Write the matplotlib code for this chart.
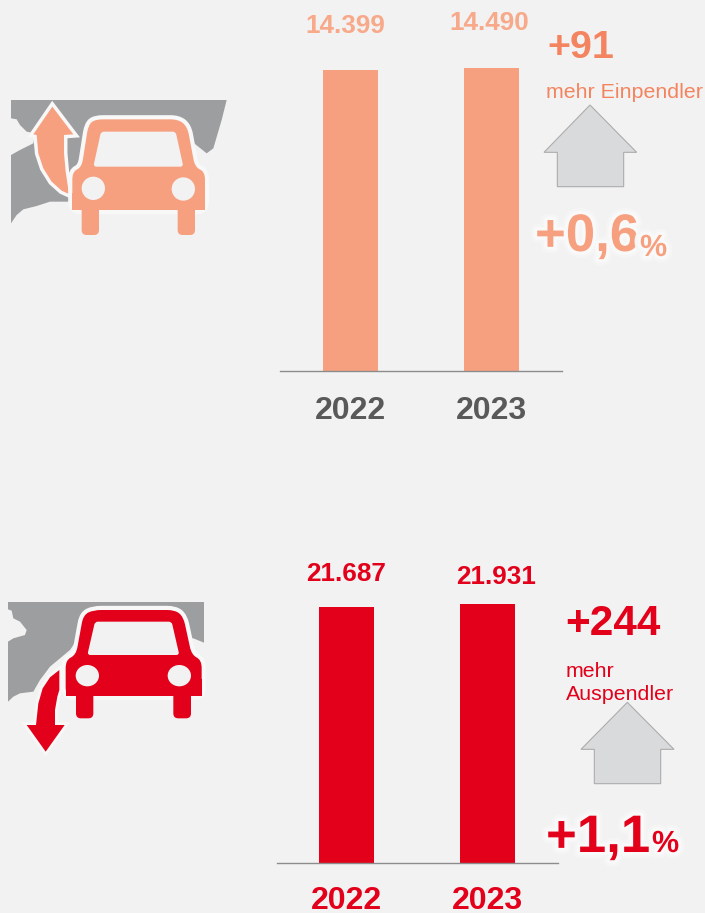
import matplotlib
matplotlib.use('Agg')
import matplotlib.pyplot as plt
import matplotlib.patheffects as pe
from matplotlib.patches import Polygon, Ellipse, FancyBboxPatch, PathPatch
from matplotlib.path import Path

plt.rcParams['font.family'] = ['Liberation Sans', 'DejaVu Sans']

W, H = 705, 913
BG = '#f2f2f2'
ORANGE = '#f6a080'
ORANGE_DARK = '#f4845f'
RED = '#e2001a'
GREY_TXT = '#595959'
GREY_MAP = '#9d9ea0'

years = ['2022', '2023']
einpendler = [14399, 14490]
auspendler = [21687, 21931]
einpendler_labels = ['14.399', '14.490']
auspendler_labels = ['21.687', '21.931']

fig = plt.figure(figsize=(W / 100, H / 100), dpi=100, facecolor=BG)


def bar_panel(x0, x1, y_base, px_top, values, color, txt_color, pad):
    # axes in pixel position, values through normal scale
    ax = fig.add_axes([x0 / W, 1 - y_base / H, (x1 - x0) / W, (y_base - 40) / H])
    ax.patch.set_alpha(0)
    ax.bar(range(2), values, width=0.39, color=color)
    ax.set_xlim(-0.5, 1.5)
    ax.set_ylim(0, max(values) * (y_base - 40) / (y_base - px_top))
    ax.set_yticks([])
    ax.set_xticks(range(2))
    ax.set_xticklabels(years, fontsize=23, fontweight='bold', color=txt_color)
    ax.tick_params(axis='x', length=0, pad=pad)
    for s in ['top', 'left', 'right']:
        ax.spines[s].set_visible(False)
    ax.spines['bottom'].set_color('#8c8c8c')
    ax.spines['bottom'].set_linewidth(1)
    return ax


bar_panel(280, 562, 371, 68, einpendler, ORANGE, GREY_TXT, 18)
bar_panel(276.5, 557.5, 863, 604, auspendler, RED, RED, 16.5)

# overlay in pixels for icons and free text
ov = fig.add_axes([0, 0, 1, 1], zorder=5)
ov.set_xlim(0, W)
ov.set_ylim(H, 0)
ov.axis('off')


def pts(p, dx, dy):
    return [(x / 3 + dx, y / 3 + dy) for x, y in p]


def rounded(p, r):
    # closed path, corners cut with a quadratic curve
    verts, codes = [], []
    n = len(p)
    for i in range(n):
        px, py = p[i - 1]
        x, y = p[i]
        nx, ny = p[(i + 1) % n]
        d1 = max(((x - px) ** 2 + (y - py) ** 2) ** 0.5, 1e-6)
        d2 = max(((x - nx) ** 2 + (y - ny) ** 2) ** 0.5, 1e-6)
        a = min(r, d1 / 2)
        b = min(r, d2 / 2)
        start = (x + (px - x) * a / d1, y + (py - y) * a / d1)
        end = (x + (nx - x) * b / d2, y + (ny - y) * b / d2)
        verts.append(start)
        codes.append(Path.MOVETO if i == 0 else Path.LINETO)
        verts += [(x, y), end]
        codes += [Path.CURVE3, Path.CURVE3]
    verts.append(verts[0])
    codes.append(Path.CLOSEPOLY)
    return Path(verts, codes)


def car(dx, dy, c, outline, win, holes, legs):
    halo = [pe.withStroke(linewidth=6, foreground='#f8f8f8')]
    ov.add_patch(PathPatch(rounded(pts(outline, dx, dy), 8), fc=c, ec='none', zorder=3, path_effects=halo))
    # square lower corners of the body
    xl, xr, yb = outline[0][0], outline[-1][0], outline[0][1]
    ov.add_patch(Polygon(pts([(xl, yb - 50), (xr, yb - 50), (xr, yb), (xl, yb)], dx, dy), fc=c, ec='none', zorder=3))
    for a, b, yt, ye in legs:
        ov.add_patch(FancyBboxPatch((a / 3 + dx + 5, yt / 3 + dy), (b - a) / 3 - 10, (ye - yt) / 3 - 5,
                                    boxstyle='round,pad=5', fc=c, ec='none', zorder=3))
    ov.add_patch(PathPatch(rounded(pts(win, dx, dy), 3), fc=BG, ec='none', zorder=4))
    for hx, hy, rx, ry in holes:
        ov.add_patch(Ellipse((hx / 3 + dx, hy / 3 + dy), 2 * rx / 3, 2 * ry / 3, fc=BG, ec='none', zorder=4))


# top icon, coordinates from 3x crop
d1 = (0, 90)
ov.add_patch(Polygon(pts([(33, 30), (680, 30), (665, 90), (640, 175), (620, 190), (595, 170), (570, 150),
                          (400, 150), (240, 230), (210, 335), (190, 335), (150, 335), (110, 348), (70, 358),
                          (50, 375), (33, 400), (33, 195), (60, 180), (100, 160), (105, 130), (80, 125),
                          (60, 105), (50, 88), (33, 85)], *d1), fc=GREY_MAP, ec='none', zorder=1))
ov.add_patch(Polygon(pts([(157, 50), (220, 133), (192, 135), (192, 190), (197, 245), (207, 312), (185, 302),
                          (155, 275), (130, 235), (115, 190), (110, 135), (100, 133)], *d1), fc=ORANGE,
                     ec='none', zorder=2, path_effects=[pe.withStroke(linewidth=5, foreground='#f8f8f8')]))
car(*d1, ORANGE,
    [(217, 360), (217, 245), (245, 232), (265, 105), (285, 88), (535, 88), (562, 110), (585, 232), (615, 245),
     (615, 360)],
    [(280, 230), (303, 125), (527, 125), (550, 230)],
    [(280, 295, 35, 35), (550, 297, 35, 35)],
    [(245, 297, 350, 435), (533, 585, 350, 435)])

# bottom icon
d2 = (0, 590)
ov.add_patch(Polygon(pts([(24, 36), (612, 36), (612, 158), (580, 145), (230, 150), (210, 180), (150, 230),
                          (120, 270), (100, 305), (60, 310), (40, 320), (24, 335), (24, 155), (40, 145),
                          (75, 135), (80, 120), (60, 95), (40, 85), (35, 62), (24, 58)], *d2),
                     fc=GREY_MAP, ec='none', zorder=1))
ov.add_patch(Polygon(pts([(178, 240), (150, 262), (128, 295), (115, 340), (108, 405), (80, 405), (137, 485),
                          (194, 405), (165, 405), (165, 360), (172, 320), (178, 300)], *d2), fc=RED,
                     ec='none', zorder=2, path_effects=[pe.withStroke(linewidth=4, foreground='#f8f8f8')]))
car(*d2, RED,
    [(197, 318), (197, 210), (228, 195), (250, 75), (280, 60), (525, 60), (550, 80), (575, 195), (605, 210),
     (605, 318)],
    [(262, 195), (285, 95), (515, 95), (538, 195)],
    [(262, 257, 35, 32), (538, 257, 35, 32)],
    [(228, 280, 310, 385), (520, 573, 310, 385)])

# arrows (houses)
for p, d in [([(210, 285), (350, 427), (311, 427), (311, 530), (112, 530), (112, 427), (72, 427)], (520, 10)),
             ([(292, 337), (432, 478), (392, 478), (392, 581), (193, 581), (193, 478), (153, 478)], (530, 590))]:
    ov.add_patch(Polygon(pts(p, *d), fc='#d9dadb', ec='#adadad', lw=0.8, zorder=2))

glow = [pe.withStroke(linewidth=9, foreground='#f5f5f5'), pe.withStroke(linewidth=5, foreground='#f9f9f9')]


def txt(x, y, s, size, c, weight='bold', ha='left', fx=None):
    ov.text(x, y, s, fontsize=size, color=c, fontweight=weight, ha=ha, va='baseline', path_effects=fx, zorder=6)


# value labels
txt(345.5, 33, einpendler_labels[0], 18.8, '#f7a98a', ha='center')
txt(489.5, 30, einpendler_labels[1], 18.8, '#f7a98a', ha='center')
txt(346, 581, auspendler_labels[0], 18.8, RED, ha='center')
txt(496.5, 584, auspendler_labels[1], 18.8, RED, ha='center')

# change texts
txt(547, 58, '+91', 28.4, ORANGE_DARK)
txt(546, 98, 'mehr Einpendler', 15.4, ORANGE_DARK, weight='normal')
txt(535, 251, '+0,6', 38, ORANGE, fx=glow)
txt(640, 256, '%', 22, ORANGE, fx=glow)
txt(565, 635, '+244', 30.4, RED)
txt(566, 677, 'mehr', 15.4, RED, weight='normal')
txt(566, 700, 'Auspendler', 15.4, RED, weight='normal')
txt(546, 852, '+1,1', 38, RED, fx=glow)
txt(652, 852, '%', 22, RED, fx=glow)

fig.savefig('out.png', dpi=100, facecolor=BG)
